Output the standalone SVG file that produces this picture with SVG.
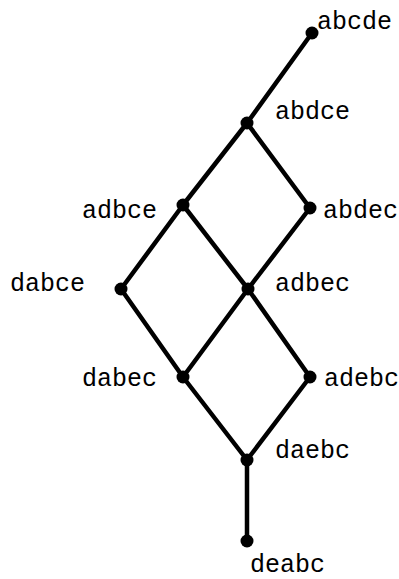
<svg xmlns="http://www.w3.org/2000/svg" width="399" height="579" viewBox="0 0 399 579">
<style>
.e{stroke:#000;stroke-width:4.5;fill:none;stroke-linecap:round}
.n{fill:#000}
.t{font-family:"Liberation Mono","Courier New",monospace;font-size:25px;fill:#000}
</style>
<rect width="399" height="579" fill="#fff"/>
<g id="connectors">
<line class="e" x1="312" y1="33" x2="247" y2="123"/>
<line class="e" x1="247" y1="123" x2="183" y2="205"/>
<line class="e" x1="247" y1="123" x2="310" y2="208"/>
<line class="e" x1="183" y1="205" x2="121" y2="289"/>
<line class="e" x1="183" y1="205" x2="248" y2="289"/>
<line class="e" x1="310" y1="208" x2="248" y2="289"/>
<line class="e" x1="121" y1="289" x2="183" y2="377"/>
<line class="e" x1="248" y1="289" x2="183" y2="377"/>
<line class="e" x1="248" y1="289" x2="310" y2="377"/>
<line class="e" x1="183" y1="377" x2="247" y2="460"/>
<line class="e" x1="310" y1="377" x2="247" y2="460"/>
<line class="e" x1="247" y1="460" x2="247" y2="541"/>
</g>
<g id="abcde"><circle class="n" cx="312" cy="33" r="6.5"/><text class="t" x="317" y="29">abcde</text></g>
<g id="abdce"><circle class="n" cx="247" cy="123" r="6.5"/><text class="t" x="275" y="119">abdce</text></g>
<g id="adbce"><circle class="n" cx="183" cy="205" r="6.5"/><text class="t" x="82" y="218">adbce</text></g>
<g id="abdec"><circle class="n" cx="310" cy="208" r="6.5"/><text class="t" x="323" y="218">abdec</text></g>
<g id="dabce"><circle class="n" cx="121" cy="289" r="6.5"/><text class="t" x="10" y="291">dabce</text></g>
<g id="adbec"><circle class="n" cx="248" cy="289" r="6.5"/><text class="t" x="275" y="291">adbec</text></g>
<g id="dabec"><circle class="n" cx="183" cy="377" r="6.5"/><text class="t" x="82" y="386">dabec</text></g>
<g id="adebc"><circle class="n" cx="310" cy="377" r="6.5"/><text class="t" x="324" y="386">adebc</text></g>
<g id="daebc"><circle class="n" cx="247" cy="460" r="6.5"/><text class="t" x="275" y="458">daebc</text></g>
<g id="deabc"><circle class="n" cx="247" cy="541" r="6.5"/><text class="t" x="250" y="572">deabc</text></g>
</svg>
